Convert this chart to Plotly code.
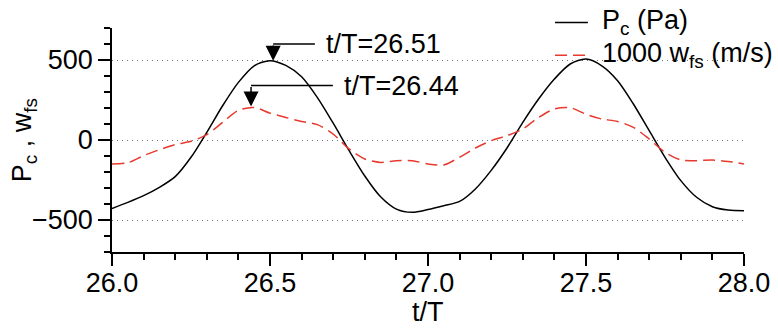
import plotly.graph_objects as go

# ---- data ----
t_over_T = [26.00, 26.05, 26.10, 26.15, 26.20, 26.25, 26.30, 26.35, 26.40, 26.45,
            26.50, 26.55, 26.60, 26.65, 26.70, 26.75, 26.80, 26.85, 26.90, 26.95,
            27.00, 27.05, 27.10, 27.15, 27.20, 27.25, 27.30, 27.35, 27.40, 27.45,
            27.50, 27.55, 27.60, 27.65, 27.70, 27.75, 27.80, 27.85, 27.90, 27.95,
            28.00]

p_c = [-428, -390, -348, -296, -229, -108, 48, 214, 360, 464,
       496, 466, 395, 265, 105, -65, -225, -355, -432, -452,
       -435, -411, -384, -306, -190, -50, 110, 256, 381, 475,
       506, 464, 371, 225, 58, -108, -254, -358, -417, -438,
       -442]

w_fs_1000 = [-150, -142, -98, -61, -29, -8, 33, 110, 185, 203,
             168, 141, 116, 96, 37, -56, -119, -140, -129, -129,
             -150, -156, -108, -50, -4, 27, 69, 141, 194, 202,
             161, 131, 116, 79, 6, -77, -125, -129, -125, -134,
             -150]

series_names = ["P<sub>c</sub> (Pa)", "1000 w<sub>fs</sub> (m/s)"]
series_colors = ["black", "#e8392e"]
series_dash = ["solid", "12px,6px"]

# annotated peaks
peak_t = [26.51, 26.44]
peak_v = [496, 210]
peak_labels = ["t/T=26.51", "t/T=26.44"]
elbow_v = [600, 340]          # height of the horizontal leader
leader_end_t = [26.642, 26.699]
label_t = [26.672, 26.727]

FONT = "Liberation Sans, Arial, Helvetica, sans-serif"
FS = 27

fig = go.Figure()
for ys, nm, col, dsh in zip([p_c, w_fs_1000], series_names, series_colors, series_dash):
    fig.add_trace(go.Scatter(
        x=t_over_T, y=ys, mode="lines", name=nm, showlegend=False, hoverinfo="skip",
        line=dict(color=col, width=1.5, dash=dsh, shape="spline", smoothing=0.8)))

# peak markers: elbow leader + arrow + label
for pt, pv, lab, ev, le, lt in zip(peak_t, peak_v, peak_labels, elbow_v, leader_end_t, label_t):
    fig.add_shape(type="line", xref="x", yref="y", x0=pt, x1=le, y0=ev, y1=ev,
                  line=dict(color="black", width=1.5))
    fig.add_annotation(x=pt, y=pv, ax=pt, ay=ev, axref="x", ayref="y", xref="x", yref="y",
                       text="", showarrow=True, arrowhead=2, arrowsize=2, arrowwidth=1.5,
                       arrowcolor="black", standoff=0)
    fig.add_annotation(x=lt, y=ev, xref="x", yref="y", text=lab, showarrow=False,
                       xanchor="left", yanchor="middle",
                       font=dict(size=FS, color="black", family=FONT))

# legend (drawn in paper coordinates)
leg_rows_y = [1.025, 0.878]
for ry, nm, col, dsh in zip(leg_rows_y, series_names, series_colors, series_dash):
    fig.add_shape(type="line", xref="paper", yref="paper", x0=0.701, x1=0.753, y0=ry, y1=ry,
                  line=dict(color=col, width=1.5, dash=dsh))
    fig.add_annotation(x=0.772, y=ry, xref="paper", yref="paper", text=nm, showarrow=False,
                       xanchor="left", yanchor="middle",
                       font=dict(size=FS, color="black", family=FONT))

# axis titles
fig.add_annotation(x=0.5, y=-0.268, xref="paper", yref="paper", text="t/T", showarrow=False,
                   xanchor="center", yanchor="middle", font=dict(size=FS, family=FONT))
fig.add_annotation(x=-0.139, y=0.5, xref="paper", yref="paper",
                   text="P<sub>c</sub> , w<sub>fs</sub>", showarrow=False, textangle=-90,
                   xanchor="center", yanchor="middle", font=dict(size=FS, family=FONT))

fig.update_layout(
    width=778, height=328,
    margin=dict(l=112, r=34, t=28, b=76, autoexpand=False),
    paper_bgcolor="white", plot_bgcolor="white",
    font=dict(family=FONT, size=FS, color="black"),
    showlegend=False, hovermode=False,
)
fig.update_xaxes(
    range=[26, 28], dtick=0.5, tick0=26, tickformat=".1f",
    showline=True, linecolor="black", linewidth=1.5,
    ticks="outside", ticklen=12, tickwidth=1.5, tickcolor="black",
    minor=dict(dtick=0.1, ticklen=6, tickwidth=1.5, tickcolor="black", showgrid=False),
    showgrid=False, zeroline=False, automargin=False,
    tickfont=dict(size=FS), ticklabelstandoff=-6,
)
fig.update_yaxes(
    range=[-700, 700], dtick=500, tick0=0,
    showline=True, linecolor="black", linewidth=1.5,
    ticks="outside", ticklen=12, tickwidth=1.5, tickcolor="black",
    minor=dict(dtick=100, ticklen=6, tickwidth=1.5, tickcolor="black", showgrid=False),
    showgrid=True, gridcolor="#777777", griddash="1px,4px", gridwidth=1,
    zeroline=False, automargin=False,
    tickfont=dict(size=FS), ticklabelstandoff=0,
)

# remove the browser's default 8px body margin so the figure fills the window exactly
fig.write_html("out.html", config={"displayModeBar": False},
               post_script="document.body.style.margin='0';")
